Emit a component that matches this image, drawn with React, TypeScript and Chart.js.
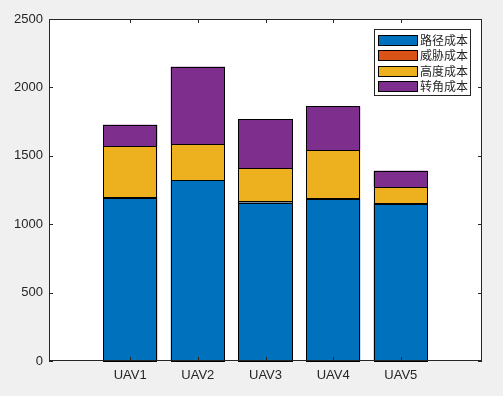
import React, { useEffect, useRef } from "react";
import { Chart, registerables } from "chart.js";

Chart.register(...registerables);

const labels = ["UAV1", "UAV2", "UAV3", "UAV4", "UAV5"];
const pathCost = [1190, 1320, 1158, 1185, 1150];
const threatCost = [8, 3, 8, 3, 3];
const heightCost = [371, 263, 243, 352, 117];
const turnCost = [158, 565, 358, 322, 120];
const seriesNames = ["路径成本", "威胁成本", "高度成本", "转角成本"];
const seriesColors = ["#0072BD", "#D95319", "#EDB120", "#7E2F8E"];
const yTicks = [0, 500, 1000, 1500, 2000, 2500];

const AXIS = "#262626";
const FONT = '"Liberation Sans", Arial, sans-serif';

const framePlugin = {
  id: "frame",
  beforeDraw(chart: any) {
    const { ctx, chartArea: a, width, height } = chart;
    ctx.save();
    ctx.fillStyle = "#F0F0F0";
    ctx.fillRect(0, 0, width, height);
    ctx.fillStyle = "#FFFFFF";
    ctx.fillRect(a.left, a.top, a.right - a.left, a.bottom - a.top);
    ctx.restore();
  },
  afterDatasetsDraw(chart: any) {
    const { ctx, chartArea: a, scales } = chart;
    ctx.save();
    // bar outlines
    ctx.strokeStyle = "#000000";
    ctx.lineWidth = 1;
    chart.data.datasets.forEach((_: any, di: number) => {
      const meta = chart.getDatasetMeta(di);
      meta.data.forEach((bar: any) => {
        const p = bar.getProps(["x", "y", "base", "width"], true);
        const l = Math.round(p.x - p.width / 2) + 0.5;
        const r = Math.round(p.x + p.width / 2) - 0.5;
        const t = Math.round(Math.min(p.y, p.base)) + 0.5;
        const b = Math.round(Math.max(p.y, p.base)) + 0.5;
        ctx.strokeRect(l, t, r - l, b - t);
      });
    });
    ctx.strokeStyle = AXIS;
    ctx.beginPath();
    const tl = 4;
    scales.y.ticks.forEach((t: any) => {
      const py = Math.round(scales.y.getPixelForValue(t.value)) + 0.5;
      ctx.moveTo(a.left, py);
      ctx.lineTo(a.left + tl, py);
      ctx.moveTo(a.right, py);
      ctx.lineTo(a.right - tl, py);
    });
    scales.x.ticks.forEach((t: any) => {
      const px = Math.round(scales.x.getPixelForValue(t.value)) + 0.5;
      ctx.moveTo(px, a.bottom);
      ctx.lineTo(px, a.bottom - tl);
      ctx.moveTo(px, a.top);
      ctx.lineTo(px, a.top + tl);
    });
    ctx.stroke();
    ctx.strokeRect(a.left + 0.5, a.top + 0.5, a.right - a.left - 1, a.bottom - a.top - 1);
    ctx.restore();
  },
  afterDraw(chart: any) {
    const { ctx } = chart;
    ctx.save();
    const boxL = 374.5, boxT = 29.5, boxW = 96, boxH = 66;
    ctx.fillStyle = "#FFFFFF";
    ctx.fillRect(boxL, boxT, boxW, boxH);
    ctx.strokeStyle = AXIS;
    ctx.lineWidth = 1;
    ctx.strokeRect(boxL, boxT, boxW, boxH);
    const rowH = 15.5;
    const firstC = 39.7;
    ctx.font = '12px "Noto Sans CJK SC"';
    ctx.textBaseline = "middle";
    chart.data.datasets.forEach((ds: any, i: number) => {
      const cy = firstC + i * rowH;
      ctx.fillStyle = ds.backgroundColor;
      ctx.fillRect(378, Math.round(cy - 5), 39, 10);
      ctx.strokeStyle = "#000000";
      ctx.strokeRect(378.5, Math.round(cy - 5) + 0.5, 39, 10);
      ctx.fillStyle = AXIS;
      ctx.fillText(ds.label, 420, cy + 0.5);
    });
    ctx.restore();
  },
};

export default function App() {
  const ref = useRef<HTMLCanvasElement | null>(null);
  useEffect(() => {
    if (!ref.current) return;
    const series = [pathCost, threatCost, heightCost, turnCost];
    const chart = new Chart(ref.current, {
      type: "bar",
      data: {
        datasets: series.map((arr, si) => ({
          label: seriesNames[si],
          data: arr.map((v, i) => ({ x: i + 1, y: v })),
          backgroundColor: seriesColors[si],
          borderWidth: 0,
          barPercentage: 0.8,
          categoryPercentage: 1.0,
        })),
      },
      options: {
        animation: false,
        responsive: true,
        maintainAspectRatio: false,
        layout: { padding: { left: 0, top: 19, right: 21, bottom: 0 } },
        plugins: { legend: { display: false }, tooltip: { enabled: false } },
        scales: {
          x: {
            type: "linear",
            stacked: true,
            offset: false,
            min: -0.2,
            max: 6.2,
            grid: { display: false, drawTicks: false },
            border: { display: false },
            afterBuildTicks: (s: any) => {
              s.ticks = labels.map((_, i) => ({ value: i + 1 }));
            },
            afterFit: (s: any) => {
              s.height = 35;
            },
            ticks: {
              autoSkip: false,
              maxRotation: 0,
              padding: 7,
              color: AXIS,
              font: { family: FONT, size: 13 },
              callback: (v: any) => labels[Math.round(Number(v)) - 1] ?? "",
            },
          },
          y: {
            stacked: true,
            min: 0,
            max: 2500,
            grid: { display: false, drawTicks: false },
            border: { display: false },
            afterBuildTicks: (s: any) => {
              s.ticks = yTicks.map((v) => ({ value: v }));
            },
            afterFit: (s: any) => {
              s.width = 49;
            },
            ticks: {
              padding: 6,
              color: AXIS,
              font: { family: FONT, size: 13 },
              callback: (v: any) => String(v),
            },
          },
        },
      },
      plugins: [framePlugin],
    });
    return () => chart.destroy();
  }, []);
  return (
    <div style={{ position: "fixed", left: 0, top: 0, width: 503, height: 396, background: "#F0F0F0" }}>
      <canvas ref={ref} />
    </div>
  );
}
